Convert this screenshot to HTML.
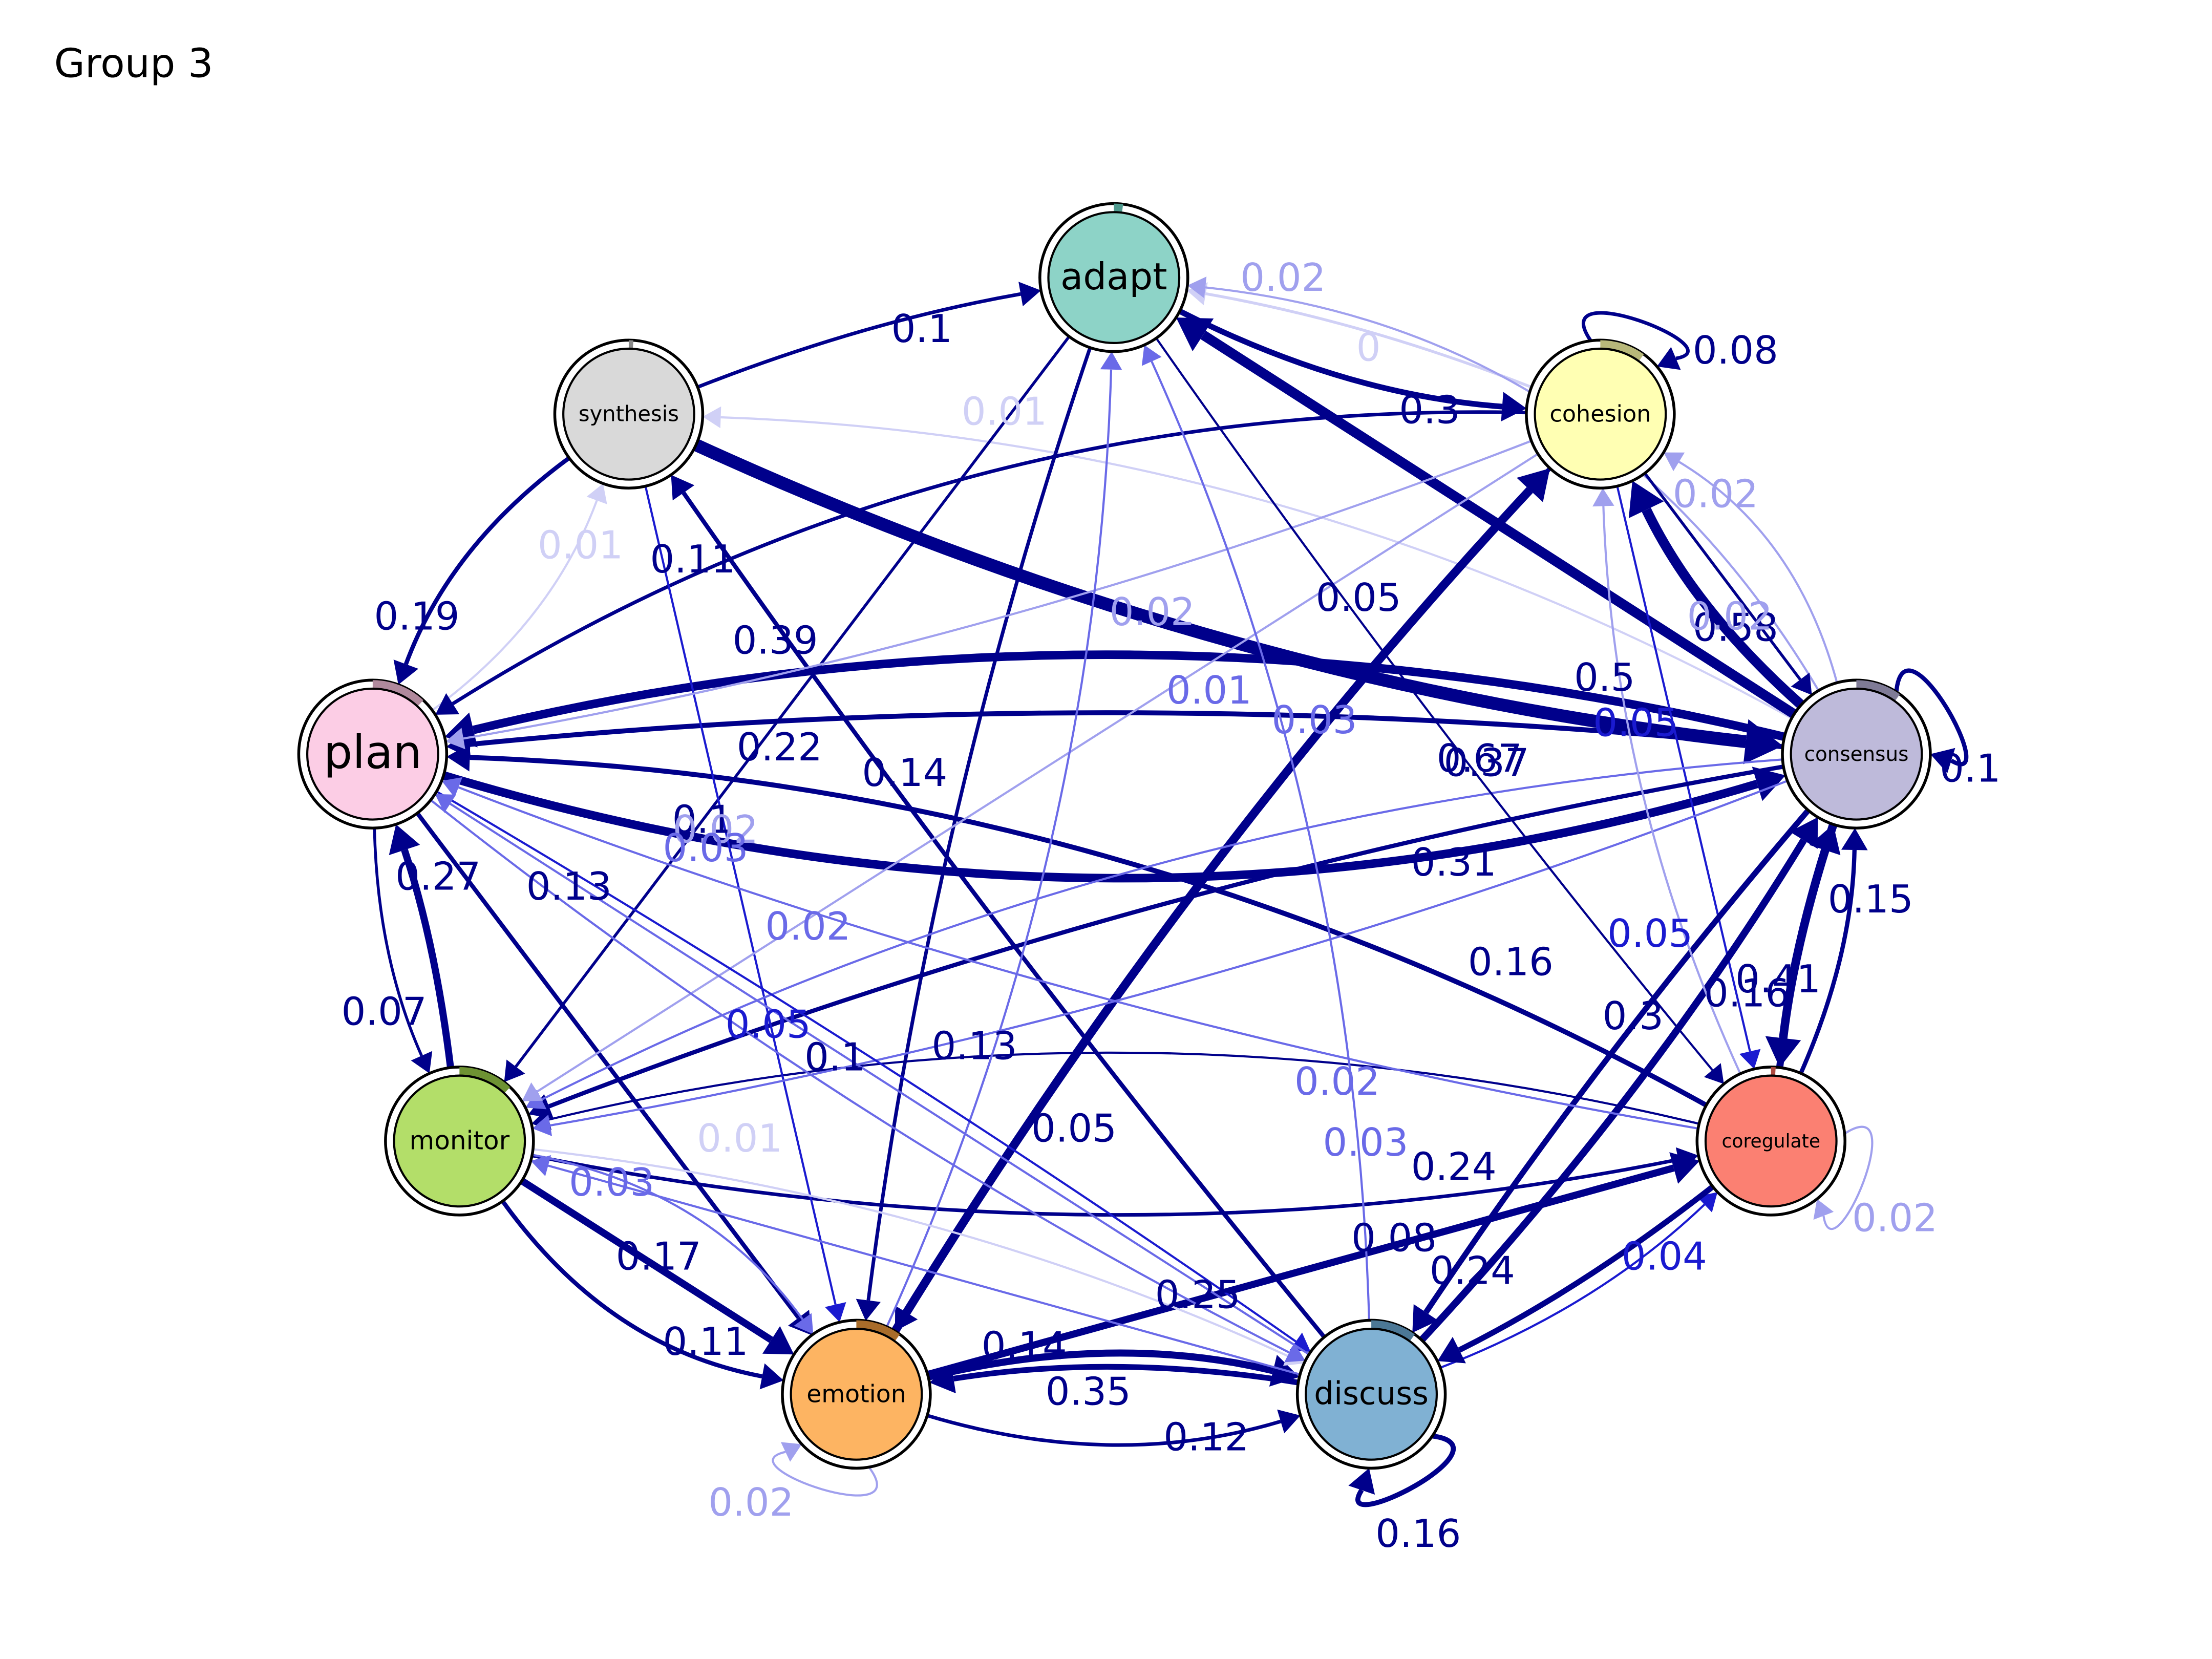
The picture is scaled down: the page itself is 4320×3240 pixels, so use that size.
<!DOCTYPE html>
<html><head><meta charset="utf-8"><style>
html,body{margin:0;padding:0;background:#fff;}
svg{display:block;}
text{font-family:"DejaVu Sans","Liberation Sans",sans-serif;}
</style></head><body>
<svg id="s" width="4320" height="3240" viewBox="0 0 1555 1166" xmlns="http://www.w3.org/2000/svg">
<rect width="1555" height="1166" fill="#fff"/>
<text x="38" y="54" font-size="28" fill="#000">Group 3</text>
<g id="E"></g>
<g id="N"></g>
<g id="L"></g>
</svg>
<script>
var N={adapt:[783,195],synthesis:[442,291],cohesion:[1125,291],plan:[262,530],consensus:[1305,530],monitor:[323,802],coregulate:[1245,802],emotion:[602,980],discuss:[964,980]};
var R=52;
var NS="http://www.w3.org/2000/svg";
function el(t,a,p,txt){var e=document.createElementNS(NS,t);for(var k in a)e.setAttribute(k,a[k]);if(txt!==undefined)e.textContent=txt;document.getElementById(p).appendChild(e);return e;}
var D="#00008b",M="#1a1ad0",L1="#6a6ae8",L2="#a0a0ee",L3="#d0d0f6";
function edge(a,b,w,c,cv,lab,lx,ly){
 var A=N[a],B=N[b];var mx=(A[0]+B[0])/2,my=(A[1]+B[1])/2;var dx=B[0]-A[0],dy=B[1]-A[1];var len=Math.hypot(dx,dy);
 var px=-dy/len,py=dx/len;var cx=mx+px*cv*len,cy=my+py*cv*len;
 var sx=cx-A[0],sy=cy-A[1],sl=Math.hypot(sx,sy);var x0=A[0]+sx/sl*R,y0=A[1]+sy/sl*R;
 var ex=cx-B[0],ey=cy-B[1],el2=Math.hypot(ex,ey);var ux=ex/el2,uy=ey/el2;
 var ah=10+w*1.8,aw=6+w*1.1;
 var tx=B[0]+ux*R,ty=B[1]+uy*R;var bx=tx+ux*ah,by=ty+uy*ah;
 el("path",{d:"M"+x0+","+y0+" Q"+cx+","+cy+" "+bx+","+by,fill:"none",stroke:c,"stroke-width":w},"E");
 el("polygon",{points:tx+","+ty+" "+(bx-uy*aw)+","+(by+ux*aw)+" "+(bx+uy*aw)+","+(by-ux*aw),fill:c},"E");
 if(lab)el("text",{x:lx,y:ly,"font-size":27,fill:c,"text-anchor":"middle","dominant-baseline":"middle"},"L",lab);
}
function loop(n,ang,w,c,lab,lx,ly){
 var A=N[n];var a1=ang-0.5,a2=ang+0.5;var p1=[A[0]+R*Math.cos(a1),A[1]+R*Math.sin(a1)],p2=[A[0]+R*Math.cos(a2),A[1]+R*Math.sin(a2)];
 var d=R*1.05;var c1=[A[0]+(R+d)*Math.cos(a1-0.25),A[1]+(R+d)*Math.sin(a1-0.25)],c2=[A[0]+(R+d)*Math.cos(a2+0.25),A[1]+(R+d)*Math.sin(a2+0.25)];
 var ux=Math.cos(a2+0.3),uy=Math.sin(a2+0.3);var ah=10+w*1.8,aw=6+w*1.1;var bx=p2[0]+ux*ah,by=p2[1]+uy*ah;
 el("path",{d:"M"+p1+" C"+c1+" "+c2+" "+bx+","+by,fill:"none",stroke:c,"stroke-width":w},"E");
 el("polygon",{points:p2[0]+","+p2[1]+" "+(bx-uy*aw)+","+(by+ux*aw)+" "+(bx+uy*aw)+","+(by-ux*aw),fill:c},"E");
 el("text",{x:lx,y:ly,"font-size":27,fill:c,"text-anchor":"middle","dominant-baseline":"middle"},"L",lab);
}
edge("synthesis","adapt",2.5,D,-0.05,"0.1",648,233);
edge("adapt","cohesion",4,D,0.1,"0.3",1005,290);
edge("cohesion","adapt",2,L3,0.05,"0",962,246);
edge("consensus","adapt",1.5,L2,0.25,"0.02",902,197);
edge("consensus","synthesis",1.5,L3,0.12,"0.01",706,291);
edge("synthesis","plan",3,D,0.15,"0.19",293,435);
edge("plan","synthesis",1.5,L3,0.15,"0.01",408,385);
edge("synthesis","consensus",9,D,0.08,"0.67",1040,535);
edge("cohesion","consensus",2,D,0,"0.37",1045,538);
edge("consensus","plan",6,D,0.12,"0.39",545,452);
edge("cohesion","plan",2.5,D,0.15,"0.11",487,395);
edge("discuss","synthesis",3,D,-0.02,"0.14",636,545);
edge("plan","consensus",6,D,0.15,"0.31",1022,608);
edge("consensus","plan",3.5,D,0.05,"0.22",548,527);
edge("coregulate","plan",3.5,D,0.12,"0.16",1062,678);
edge("consensus","adapt",7,D,0,"0.5",1128,478);
edge("consensus","cohesion",7,D,-0.1,"0.58",1220,443);
edge("cohesion","coregulate",1.5,M,0,"0.05",1150,510);
loop("consensus",-0.5,3,D,"0.1",1385,542);
loop("cohesion",-1.2,2.5,D,"0.08",1220,248);
edge("coregulate","consensus",3,D,0.1,"0.15",1315,634);
edge("consensus","coregulate",6,D,0.05,"0.41",1250,690);
edge("coregulate","consensus",5,D,-0.05,"0.16",1228,700);
edge("discuss","consensus",5,D,0.05,"0.3",1148,716);
edge("emotion","cohesion",6,D,-0.05,"",0,0);
edge("plan","monitor",2,D,0.1,"0.07",270,713);
edge("monitor","plan",5,D,0.05,"0.27",308,618);
edge("plan","emotion",3,D,0,"0.13",400,625);
edge("monitor","emotion",5,D,0,"0.17",463,885);
edge("monitor","emotion",3,D,0.2,"0.11",496,945);
edge("emotion","discuss",5,D,-0.12,"0.35",765,980);
edge("emotion","discuss",2.5,D,0.15,"0.12",848,1012);
edge("discuss","emotion",4,D,0.08,"0.14",720,948);
loop("emotion",1.9,1.5,L2,"0.02",528,1058);
loop("discuss",1.1,3.5,D,"0.16",997,1080);
loop("coregulate",0.4,1.5,L2,"0.02",1332,858);
edge("discuss","coregulate",1.5,M,0.1,"0.04",1170,885);
edge("emotion","coregulate",5,D,0,"0.25",842,912);
edge("monitor","coregulate",2.5,D,0.1,"0.08",980,872);
edge("coregulate","discuss",4,D,-0.05,"0.24",1035,895);
edge("consensus","discuss",4,D,0.03,"0.24",1022,822);
edge("consensus","monitor",3,D,0.05,"0.05",755,795);
edge("coregulate","monitor",1.5,D,0.12,"0.1",587,745);
edge("adapt","monitor",2,D,0,"0.1",494,578);
edge("adapt","emotion",2.5,D,0.05,"",0,0);
edge("cohesion","emotion",3,D,0.05,"0.13",685,737);
edge("synthesis","emotion",1.5,M,0,"0.05",540,722);
edge("consensus","monitor",1.5,L1,0.1,"0.02",568,653);
edge("cohesion","plan",1.5,L2,-0.05,"0.02",810,432);
edge("cohesion","monitor",1.5,L2,0,"0.02",503,585);
edge("discuss","adapt",1.5,L1,0.1,"0.02",940,762);
edge("emotion","adapt",1.5,L1,0.1,"0.01",850,487);
edge("coregulate","plan",1.5,L1,-0.05,"0.03",960,805);
edge("consensus","monitor",1.5,L1,-0.05,"0.03",924,508);
edge("monitor","discuss",1.5,L3,-0.08,"0.01",520,802);
edge("discuss","monitor",1.5,L1,0,"0.03",430,833);
edge("plan","discuss",1.5,M,-0.02,"0.05",1160,658);
edge("discuss","plan",1.5,L1,0,"0.03",496,598);
edge("consensus","cohesion",1.5,L2,0.2,"0.02",1206,349);
edge("coregulate","cohesion",1.5,L2,-0.1,"0.02",1216,435);
edge("adapt","coregulate",1.5,D,0.02,"0.05",955,422);
edge("plan","discuss",1.5,L1,0.05,"",0,0);
edge("monitor","emotion",1.5,L1,-0.2,"",0,0);
var C={adapt:["#8dd3c7","#4f9a8e",0.02],synthesis:["#d9d9d9","#888",0.01],cohesion:["#ffffb3","#b8b87a",0.1],plan:["#fccde5","#b0899c",0.12],consensus:["#bebada","#7f7b96",0.1],monitor:["#b3de69","#6e9233",0.12],coregulate:["#fb8072","#b04b40",0.01],emotion:["#fdb462","#a86c2a",0.1],discuss:["#80b1d3","#4c7896",0.1]};
var FS={adapt:26,plan:32,synthesis:15,cohesion:16,consensus:14,monitor:18,coregulate:13,emotion:17,discuss:22};
for(var n in N){var p=N[n],c=C[n];
 el("circle",{cx:p[0],cy:p[1],r:R,fill:"#fff",stroke:"#000","stroke-width":2},"N");
 var f=c[2],a0=-Math.PI/2,a1=a0+f*2*Math.PI,rr=R-3;
 el("path",{d:"M"+(p[0]+rr*Math.cos(a0))+","+(p[1]+rr*Math.sin(a0))+" A"+rr+","+rr+" 0 0 1 "+(p[0]+rr*Math.cos(a1))+","+(p[1]+rr*Math.sin(a1)),fill:"none",stroke:c[1],"stroke-width":6},"N");
 el("circle",{cx:p[0],cy:p[1],r:R-6,fill:c[0],stroke:"#000","stroke-width":1.5},"N");
 el("text",{x:p[0],y:p[1]+1,"font-size":FS[n],fill:"#000","text-anchor":"middle","dominant-baseline":"middle"},"N",n);
}
</script>
</body></html>
